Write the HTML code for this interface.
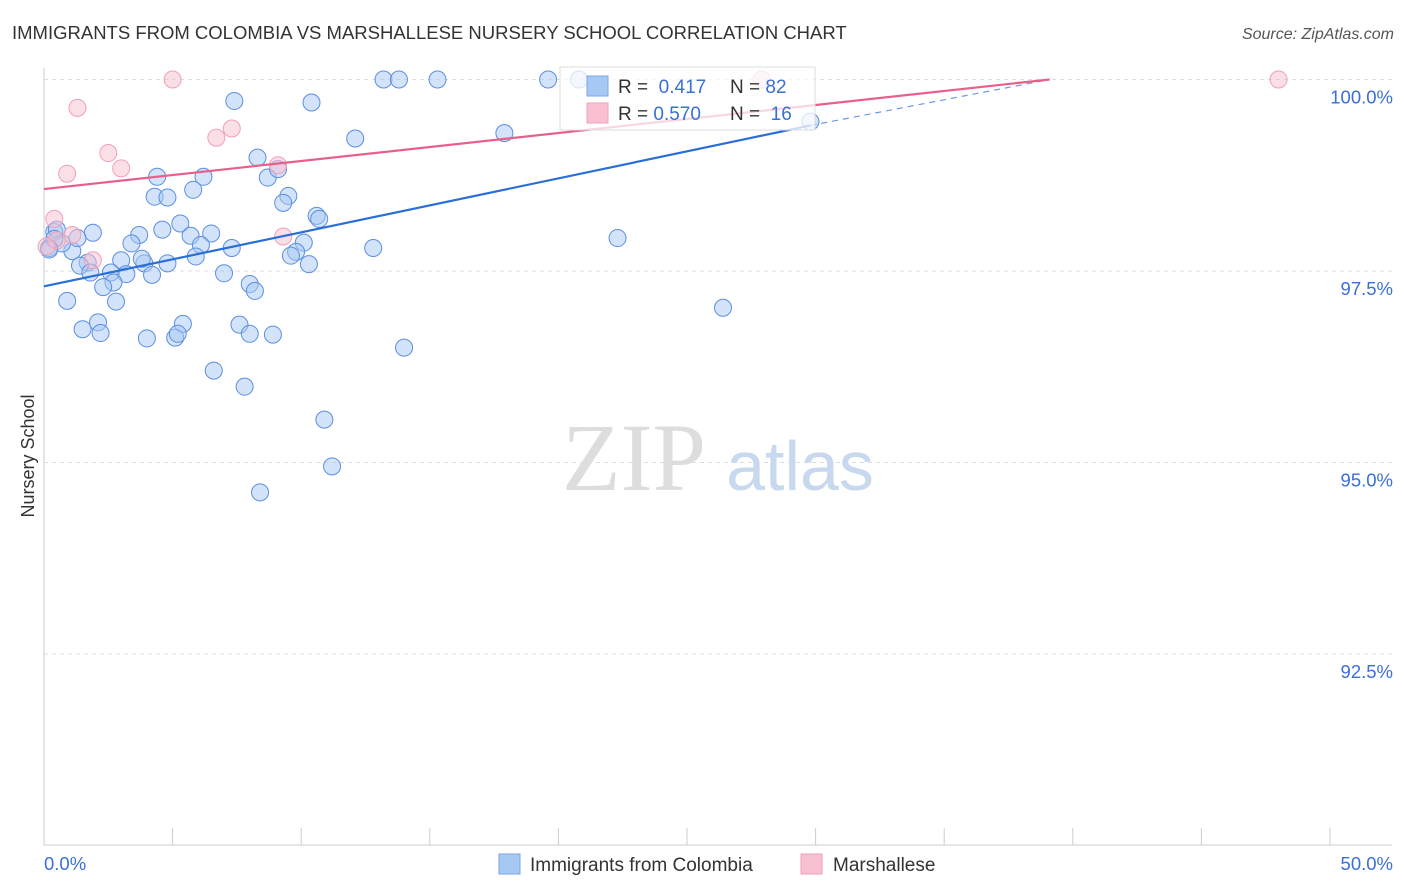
<!DOCTYPE html>
<html><head><meta charset="utf-8"><style>
body{margin:0;background:#fff;font-family:"Liberation Sans",sans-serif;}
#wrap{position:relative;width:1406px;height:892px;overflow:hidden;}
</style></head><body><div id="wrap">
<svg id="svg" width="1406" height="892">
<text x="12" y="39" font-size="18.5" fill="#333">IMMIGRANTS FROM COLOMBIA VS MARSHALLESE NURSERY SCHOOL CORRELATION CHART</text>
<text x="1394" y="39" font-size="16" fill="#555" font-style="italic" text-anchor="end">Source: ZipAtlas.com</text>
<text transform="translate(34,456) rotate(-90)" font-size="18" fill="#333" text-anchor="middle">Nursery School</text>
<g id="grid"></g>
<g><text x="634" y="490" font-size="96" fill="#ddd" font-family="Liberation Serif" text-anchor="middle">ZIP</text><text x="800" y="490" font-size="70" fill="#c8d8ee" text-anchor="middle">atlas</text></g>
<g id="pts"></g>
<g id="lines"></g>
<g>
<rect x="560" y="67" width="255" height="63" fill="#fff" fill-opacity="0.75" stroke="#ddd"/>
<rect x="587" y="76" width="21" height="20" fill="#a8c8f4" stroke="#7aa6e6"/>
<rect x="587" y="103" width="21" height="20" fill="#f8c0d0" stroke="#f0a0b8"/>
<text x="618" y="93" font-size="19" fill="#333">R = <tspan fill="#3a6fd8">&#160;0.417</tspan><tspan x="730">N = </tspan><tspan fill="#3a6fd8">82</tspan></text>
<text x="618" y="120" font-size="19" fill="#333">R = <tspan fill="#3a6fd8">0.570</tspan><tspan x="730">N = </tspan><tspan fill="#3a6fd8">&#160;16</tspan></text>
</g>
<g>
<rect x="499" y="854" width="21" height="20" fill="#a8c8f4" stroke="#7aa6e6"/>
<text x="530" y="871" font-size="19" fill="#333">Immigrants from Colombia</text>
<rect x="801" y="854" width="21" height="20" fill="#f8c0d0" stroke="#f0a0b8"/>
<text x="833" y="871" font-size="19" fill="#333">Marshallese</text>
</g>
</svg>
<script>
const yTicks=[100,97.5,95,92.5];
const yTickLabels=["100.0%","97.5%","95.0%","92.5%"];
const xTickValues=[0,5,10,15,20,25,30,35,40,45,50];
const blueX=[13.2,13.8,15.3,19.6,20.8,7.4,10.4,12.1,17.9,8.3,4.4,6.2,8.7,9.1,4.3,4.8,5.8,9.5,9.3,5.3,10.6,10.7,4.6,1.9,3.7,5.7,6.5,0.4,0.5,3.4,6.1,7.3,10.1,9.8,9.6,12.8,22.3,1.1,0.7,0.2,3.0,1.7,3.9,4.8,5.9,10.3,1.4,2.6,3.2,4.2,1.8,7.0,2.7,8.0,8.2,2.3,0.9,2.8,26.4,2.1,5.4,1.5,2.2,4.0,5.1,5.2,7.6,8.0,8.9,14.0,6.6,7.8,10.9,11.2,8.4,29.8,0.4,0.2,1.3,3.8];
const blueY=[100,100,100,100,100,99.72,99.7,99.23,99.3,98.98,98.73,98.73,98.72,98.83,98.47,98.46,98.56,98.48,98.39,98.12,98.22,98.18,98.04,98.0,97.97,97.96,97.99,98.01,98.04,97.86,97.84,97.8,97.87,97.75,97.7,97.8,97.93,97.76,97.86,97.8,97.64,97.61,97.6,97.6,97.69,97.59,97.57,97.48,97.46,97.45,97.48,97.47,97.35,97.33,97.24,97.29,97.11,97.1,97.02,96.83,96.81,96.74,96.69,96.62,96.63,96.68,96.8,96.68,96.67,96.5,96.2,95.99,95.56,94.95,94.61,99.45,97.92,97.78,97.93,97.66];
const pinkX=[5.0,48.0,27.9,1.3,6.7,7.3,2.5,3.0,0.9,9.1,0.4,1.1,9.3,1.9,0.5,0.1];
const pinkY=[100,100,100,99.63,99.24,99.36,99.04,98.84,98.77,98.88,98.18,97.97,97.95,97.64,97.9,97.82];
const blueLine=[[0,97.3],[29.8,99.4]], blueDash=[[29.8,99.4],[39.1,100]];
const pinkLine=[[0,98.57],[39.1,100]];
const X=v=>44+v/50*1286, Y=v=>79.5+(100-v)*76.6;
const NS="http://www.w3.org/2000/svg";
function mk(t,a,p){const e=document.createElementNS(NS,t);for(const k in a)e.setAttribute(k,a[k]);p.appendChild(e);return e;}
const grid=document.getElementById('grid'),svg=document.getElementById('svg');
mk('line',{x1:44,y1:68,x2:44,y2:845,stroke:'#ccc'},grid);
mk('line',{x1:44,y1:845,x2:1392,y2:845,stroke:'#ccc'},grid);
yTicks.forEach((v,i)=>{
 const l=mk('line',{x1:44,y1:Y(v),x2:1392,y2:Y(v),stroke:'#ddd','stroke-dasharray':'4,4'},grid);
 
 
 const t=mk('text',{x:1393,y:Y(v)+24,'font-size':18.5,fill:'#3a6fd8','text-anchor':'end'},grid);t.textContent=yTickLabels[i];
 
 
});
xTickValues.forEach(v=>{const l=mk('line',{x1:X(v),y1:828,x2:X(v),y2:845,stroke:'#ccc'},grid);
 
 });
let t=mk('text',{x:44,y:870,'font-size':18.5,fill:'#3a6fd8'},grid);t.textContent='0.0%';


t=mk('text',{x:1393,y:870,'font-size':18.5,fill:'#3a6fd8','text-anchor':'end'},grid);t.textContent='50.0%';


const pts=document.getElementById('pts');
blueX.forEach((x,i)=>{const c=mk('circle',{cx:X(x),cy:Y(blueY[i]),r:8.5,fill:'#a8c8f4','fill-opacity':0.5,stroke:'#5b8fe0','stroke-width':1},pts);
 
 });
pinkX.forEach((x,i)=>{const c=mk('circle',{cx:X(x),cy:Y(pinkY[i]),r:8.5,fill:'#f8c0d0','fill-opacity':0.5,stroke:'#f0a0b8','stroke-width':1},pts);
 
 });
const lines=document.getElementById('lines');
let l=mk('line',{x1:X(blueLine[0][0]),y1:Y(blueLine[0][1]),x2:X(blueLine[1][0]),y2:Y(blueLine[1][1]),stroke:'#2a6fd6','stroke-width':2.2},lines);


l=mk('line',{x1:X(blueDash[0][0]),y1:Y(blueDash[0][1]),x2:X(blueDash[1][0]),y2:Y(blueDash[1][1]),stroke:'#6a9be0','stroke-width':1.2,'stroke-dasharray':'6,5'},lines);


l=mk('line',{x1:X(pinkLine[0][0]),y1:Y(pinkLine[0][1]),x2:X(pinkLine[1][0]),y2:Y(pinkLine[1][1]),stroke:'#e8608a','stroke-width':2.2},lines);


</script>
</div></body></html>
